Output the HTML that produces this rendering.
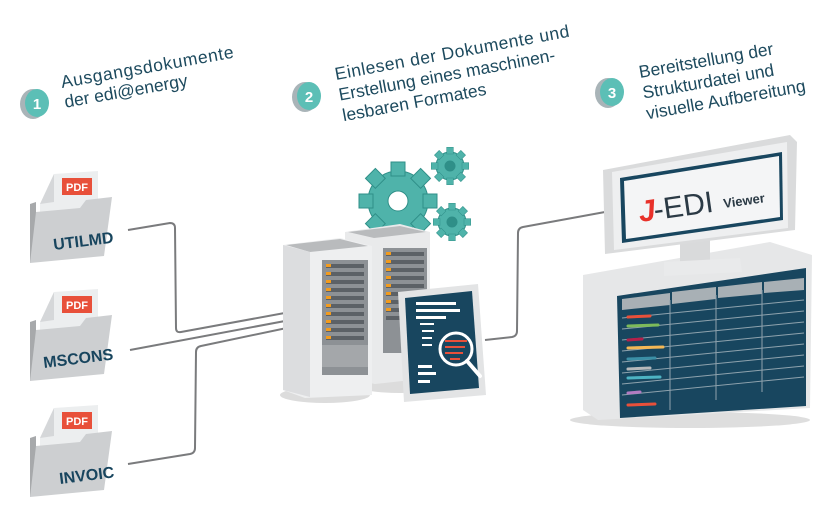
<!DOCTYPE html>
<html><head><meta charset="utf-8"><style>
html,body{margin:0;padding:0;background:#fff;width:840px;height:520px;overflow:hidden}
svg{display:block}
text{font-family:"Liberation Sans",sans-serif}
</style></head><body>
<svg width="840" height="520" viewBox="0 0 840 520" xmlns="http://www.w3.org/2000/svg">
<!-- step headers -->
<g fill="#1d4a5e" font-size="17.5">
 <g transform="rotate(-10 62 88)"><text x="62" y="88" textLength="175">Ausgangsdokumente</text><text x="62" y="108">der edi@energy</text></g>
 <g transform="rotate(-10.5 336 80)"><text x="336" y="80" textLength="238">Einlesen der Dokumente und</text><text x="336" y="101">Erstellung eines maschinen-</text><text x="336" y="122">lesbaren Formates</text></g>
 <g transform="rotate(-10 640 78)"><text x="640" y="78">Bereitstellung der</text><text x="640" y="99">Strukturdatei und</text><text x="640" y="120">visuelle Aufbereitung</text></g>
</g>
<g font-weight="bold" font-size="15" fill="#fff" text-anchor="middle">
 <ellipse cx="33" cy="104" rx="13" ry="15" fill="#a9b4b8"/><ellipse cx="37" cy="103" rx="12" ry="14" fill="#5cbfb6"/><text x="37" y="109">1</text>
 <ellipse cx="305" cy="97" rx="13" ry="15" fill="#a9b4b8"/><ellipse cx="309" cy="96" rx="12" ry="14" fill="#5cbfb6"/><text x="309" y="102">2</text>
 <ellipse cx="608" cy="93" rx="13" ry="15" fill="#a9b4b8"/><ellipse cx="612" cy="92" rx="12" ry="14" fill="#5cbfb6"/><text x="612" y="98">3</text>
</g>
<!-- folders -->
<defs>
<g id="folder">
 <polygon points="30,38 36,36 36,94 30,97" fill="#a7a9ab"/>
 <polygon points="40,38 54,8 98,5 98,60 40,62" fill="#eceeef"/>
 <polygon points="40,38 54,8 54,36" fill="#d5d7d9"/>
 <rect x="62" y="12" width="30" height="17" fill="#e8503a"/>
 <text x="77" y="25" font-size="11" font-weight="bold" fill="#fff" text-anchor="middle">PDF</text>
 <polygon points="36,46 80,42 86,34 112,31 104,90 30,97" fill="#cdcfd1"/>
</g>
</defs>
<use href="#folder" transform="translate(0,166)"/>
<use href="#folder" transform="translate(0,284)"/>
<use href="#folder" transform="translate(0,400)"/>
<g fill="#18455e" font-weight="bold" font-size="16">
 <text x="54" y="250" transform="rotate(-7 54 250)">UTILMD</text>
 <text x="44" y="368" transform="rotate(-7 44 368)">MSCONS</text>
 <text x="60" y="484" transform="rotate(-7 60 484)">INVOIC</text>
</g>
<!-- connectors -->
<g fill="none" stroke="#7a7b7d" stroke-width="2" stroke-linejoin="round">
 <path d="M128,230 L170,223 Q175,223 175,228 L176,328 Q176,333 181,332 L301,310"/>
 <path d="M130,350 L301,318"/>
 <path d="M128,464 L190,454 Q195,453 195,448 L196,352 Q196,347 201,346 L301,325"/>
 <path d="M485,340 L512,337 Q517,336 517,331 L518,233 Q518,228 523,227 L605,212"/>
</g>
<!-- gears -->
<g fill="#4fb3aa" stroke="#2f8f88" stroke-width="1">
 <circle cx="398" cy="201" r="30"/>
 <g transform="translate(398 201)"><g id="teeth" fill="#4fb3aa"><rect x="-7" y="-39" width="14" height="14"/><rect x="-7" y="25" width="14" height="14"/><rect x="-39" y="-7" width="14" height="14"/><rect x="25" y="-7" width="14" height="14"/><rect x="-7" y="-39" width="14" height="14" transform="rotate(45)"/><rect x="-7" y="25" width="14" height="14" transform="rotate(45)"/><rect x="-39" y="-7" width="14" height="14" transform="rotate(45)"/><rect x="25" y="-7" width="14" height="14" transform="rotate(45)"/></g></g>
 <circle cx="398" cy="201" r="10" fill="#fff"/>
 <circle cx="450" cy="166" r="14"/>
 <g transform="translate(450 166) scale(0.48)"><use href="#teeth"/></g>
 <circle cx="450" cy="166" r="5" fill="#2f8f88"/>
 <circle cx="452" cy="222" r="14"/>
 <g transform="translate(452 222) scale(0.48)"><use href="#teeth"/></g>
 <circle cx="452" cy="222" r="5" fill="#2f8f88"/>
</g>
<!-- servers -->
<g>
 <ellipse cx="400" cy="385" rx="45" ry="8" fill="#dcdcdc"/>
 <polygon points="345,232 400,224 430,232 430,378 375,384 345,378" fill="#e9eaeb"/>
 <polygon points="348,232 400,226 426,232 374,238" fill="#b9bbbd"/>
 <rect x="383" y="248" width="44" height="105" fill="#8d9195"/>
 <g fill="#5c6166"><rect x="386" y="252" width="38" height="4"/><rect x="386" y="260" width="38" height="4"/><rect x="386" y="268" width="38" height="4"/><rect x="386" y="276" width="38" height="4"/><rect x="386" y="284" width="38" height="4"/><rect x="386" y="292" width="38" height="4"/><rect x="386" y="300" width="38" height="4"/><rect x="386" y="308" width="38" height="4"/><rect x="386" y="316" width="38" height="4"/></g>
 <ellipse cx="325" cy="395" rx="45" ry="8" fill="#dcdcdc"/>
 <polygon points="283,245 340,238 372,246 372,395 305,398 283,390" fill="#eeeff0"/>
 <polygon points="286,245 340,239 368,246 310,252" fill="#b9bbbd"/>
 <polygon points="283,245 310,252 310,397 283,390" fill="#dcdddf"/>
 <rect x="322" y="260" width="46" height="115" fill="#8d9195"/>
 <g fill="#5c6166"><rect x="326" y="264" width="38" height="4"/><rect x="326" y="272" width="38" height="4"/><rect x="326" y="280" width="38" height="4"/><rect x="326" y="288" width="38" height="4"/><rect x="326" y="296" width="38" height="4"/><rect x="326" y="304" width="38" height="4"/><rect x="326" y="312" width="38" height="4"/><rect x="326" y="320" width="38" height="4"/><rect x="326" y="328" width="38" height="4"/><rect x="326" y="336" width="38" height="4"/></g>
 <g fill="#f29b1d"><rect x="326" y="264" width="5" height="3"/><rect x="326" y="272" width="5" height="3"/><rect x="326" y="280" width="5" height="3"/><rect x="326" y="288" width="5" height="3"/><rect x="326" y="296" width="5" height="3"/><rect x="326" y="304" width="5" height="3"/><rect x="326" y="312" width="5" height="3"/><rect x="326" y="320" width="5" height="3"/><rect x="326" y="328" width="5" height="3"/><rect x="326" y="336" width="5" height="3"/>
 <rect x="386" y="252" width="5" height="3"/><rect x="386" y="260" width="5" height="3"/><rect x="386" y="268" width="5" height="3"/><rect x="386" y="276" width="5" height="3"/><rect x="386" y="284" width="5" height="3"/><rect x="386" y="292" width="5" height="3"/><rect x="386" y="300" width="5" height="3"/><rect x="386" y="308" width="5" height="3"/></g>
 <rect x="322" y="345" width="46" height="22" fill="#a4a7aa"/>
</g>
<!-- document tablet -->
<g>
 <polygon points="398,292 478,284 486,395 404,402" fill="#e3e4e5"/>
 <polygon points="405,298 472,291 479,388 410,394" fill="#18465f"/>
 <g fill="#fff"><rect x="416" y="302" width="40" height="3"/><rect x="416" y="309" width="44" height="3"/><rect x="416" y="316" width="30" height="3"/><rect x="420" y="323" width="14" height="2"/><rect x="422" y="330" width="12" height="2"/><rect x="422" y="337" width="10" height="2"/><rect x="422" y="344" width="10" height="2"/><rect x="418" y="365" width="14" height="3"/><rect x="418" y="372" width="18" height="3"/><rect x="418" y="380" width="12" height="3"/></g>
 <circle cx="456" cy="349" r="16" fill="#18465f" stroke="#fff" stroke-width="3"/>
 <g fill="#e8503a"><rect x="445" y="340" width="22" height="2"/><rect x="445" y="346" width="20" height="2"/><rect x="445" y="352" width="18" height="2"/><rect x="450" y="358" width="10" height="2"/></g>
 <line x1="467" y1="361" x2="480" y2="376" stroke="#fff" stroke-width="4" stroke-linecap="round"/>
</g>
<!-- monitor -->
<g>
 <ellipse cx="690" cy="420" rx="120" ry="8" fill="#dedede"/>
 <polygon points="583,275 770,242 812,255 810,408 598,420 583,410" fill="#e6e7e8"/>
 <polygon points="617,296 806,268 806,406 620,418" fill="#18465f"/>
 <g fill="#a8b0b5"><polygon points="622,299 670,293 670,305 622,310"/><polygon points="672,292 716,287 716,299 672,304"/><polygon points="718,287 762,282 762,294 718,298"/><polygon points="764,282 804,278 804,290 764,293"/></g>
 <g stroke="#8fa3ae" stroke-width="1"><line x1="670" y1="300" x2="670" y2="410"/><line x1="716" y1="295" x2="716" y2="400"/><line x1="762" y1="290" x2="762" y2="392"/>
 <line x1="622" y1="318" x2="804" y2="300"/><line x1="622" y1="329" x2="804" y2="311"/><line x1="622" y1="340" x2="804" y2="322"/><line x1="622" y1="351" x2="804" y2="333"/><line x1="622" y1="362" x2="804" y2="344"/><line x1="622" y1="373" x2="804" y2="355"/><line x1="622" y1="384" x2="804" y2="366"/><line x1="622" y1="395" x2="804" y2="377"/></g>
 <g stroke-width="3" stroke-linecap="round"><line x1="628" y1="317" x2="650" y2="316" stroke="#e8503a"/><line x1="628" y1="326" x2="658" y2="325" stroke="#7dbb5a"/><line x1="628" y1="340" x2="642" y2="339" stroke="#b3204a"/><line x1="628" y1="348" x2="663" y2="347" stroke="#f3b755"/><line x1="628" y1="359" x2="655" y2="358" stroke="#3b8fa6"/><line x1="628" y1="369" x2="650" y2="368" stroke="#b7b9bb"/><line x1="628" y1="378" x2="660" y2="377" stroke="#4db3c3"/><line x1="628" y1="393" x2="640" y2="392" stroke="#b17bc2"/><line x1="628" y1="405" x2="655" y2="404" stroke="#e8503a"/></g>
 <rect x="680" y="240" width="30" height="28" fill="#d9dadb"/>
 <polygon points="664,262 740,258 742,272 664,276" fill="#e9eaeb"/>
 <polygon points="603,170 790,135 797,142 795,230 605,254" fill="#dadbdc"/>
 <polygon points="612,172 787,142 788,228 614,250" fill="#eeeff0"/>
 <polygon points="620,178 782,152 783,220 622,243" fill="#18465f"/>
 <polygon points="624,181 779,156 780,217 626,239" fill="#f4f5f6"/>
 <text x="640" y="222" font-size="30" font-weight="bold" fill="#e8312a" font-style="italic" transform="rotate(-8 640 222)">J</text>
 <text x="655" y="220" font-size="30" fill="#2b3a45" transform="rotate(-8 655 220)">-EDI</text>
 <text x="724" y="208" font-size="13" font-weight="bold" fill="#2b3a45" transform="rotate(-8 724 208)">Viewer</text>
</g>
</svg>
</body></html>
